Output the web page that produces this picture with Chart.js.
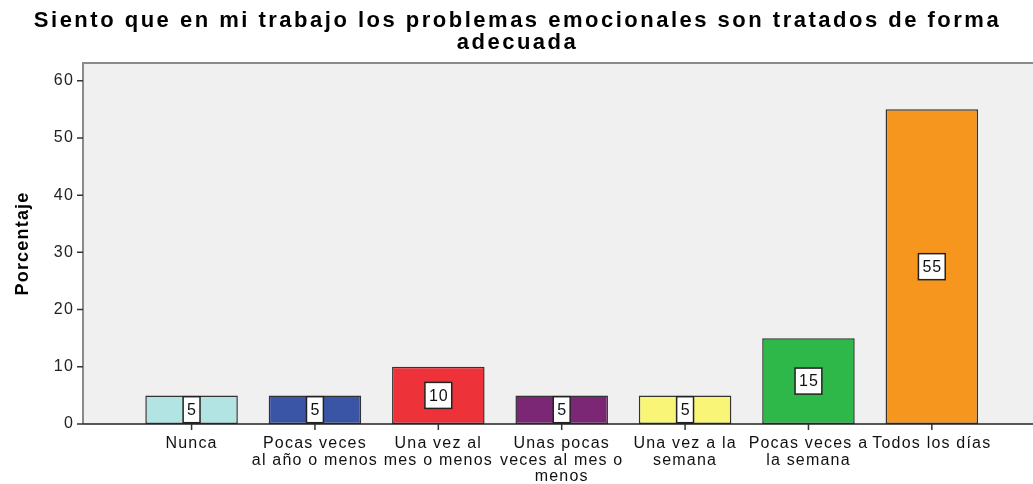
<!DOCTYPE html>
<html>
<head>
<meta charset="utf-8">
<script src="https://cdn.jsdelivr.net/npm/chart.js@4.4.0/dist/chart.umd.min.js"></script>
<style>
  html, body { margin: 0; padding: 0; background: #fff; }
  #wrap { width: 1033px; height: 484px; }
</style>
</head>
<body>
<div id="wrap"><canvas id="grafico"></canvas></div>
<script>
const titulo = ['Siento que en mi trabajo los problemas emocionales son tratados de forma', 'adecuada'];
const categorias = [
    ['Nunca'],
    ['Pocas veces', 'al año o menos'],
    ['Una vez al', 'mes o menos'],
    ['Unas pocas', 'veces al mes o', 'menos'],
    ['Una vez a la', 'semana'],
    ['Pocas veces a', 'la semana'],
    ['Todos los días']
];
const porcentajes = [5, 5, 10, 5, 5, 15, 55];
const colores = ['#b3e4e4', '#3a54a6', '#ee3239', '#7c2676', '#f9f677', '#2fb84a', '#f7961e'];
const ticksY = [0, 10, 20, 30, 40, 50, 60];

const puntos = porcentajes.map((v, i) => ({x: i, y: v}));
const fuente = '"Liberation Sans", Arial, sans-serif';

const espaciado = {
    id: 'espaciado',
    beforeUpdate(chart) { chart.ctx.letterSpacing = '1.2px'; },
    beforeDraw(chart) { chart.ctx.letterSpacing = '1.2px'; }
};

const fondoPlot = {
    id: 'fondoPlot',
    beforeDatasetsDraw(chart) {
        const a = chart.chartArea;
        const c = chart.ctx;
        c.save();
        c.fillStyle = '#f0f0f0';
        c.fillRect(a.left, a.top, a.right - a.left, a.bottom - a.top);
        c.strokeStyle = '#8a8a8a';
        c.lineWidth = 2;
        c.beginPath();
        c.moveTo(a.left, a.bottom);
        c.lineTo(a.left, a.top);
        c.lineTo(a.right + 2, a.top);
        c.stroke();
        c.restore();
    },
    afterDatasetsDraw(chart) {
        const a = chart.chartArea;
        const c = chart.ctx;
        c.save();
        c.strokeStyle = '#222';
        c.lineWidth = 1.5;
        c.beginPath();
        c.moveTo(a.left, a.bottom);
        c.lineTo(a.right + 2, a.bottom);
        c.stroke();
        // etiquetas de valor
        const meta = chart.getDatasetMeta(0);
        c.font = '16px ' + fuente;
        c.letterSpacing = '1px';
        c.textAlign = 'center';
        c.textBaseline = 'middle';
        meta.data.forEach((bar, i) => {
            const txt = String(porcentajes[i]);
            const cy = (bar.y + bar.base) / 2;
            const w = c.measureText(txt).width + 7;
            const h = 26;
            c.fillStyle = '#fff';
            c.fillRect(bar.x - w / 2, cy - h / 2, w, h);
            c.strokeStyle = '#222';
            c.lineWidth = 1.5;
            c.strokeRect(bar.x - w / 2, cy - h / 2, w, h);
            c.fillStyle = '#111';
            c.fillText(txt, bar.x + 0.5, cy + 1);
        });
        c.restore();
    }
};

const tituloPlugin = {
    id: 'tituloPlugin',
    afterDraw(chart) {
        const c = chart.ctx;
        c.save();
        c.font = 'bold 22px ' + fuente;
        c.letterSpacing = '2.5px';
        c.fillStyle = '#000';
        c.textAlign = 'center';
        c.textBaseline = 'middle';
        titulo.forEach((t, i) => c.fillText(t, chart.width / 2 + 1, 21 + i * 22));
        c.restore();
    }
};

new Chart(document.getElementById('grafico'), {
    type: 'bar',
    data: {
        datasets: [{
            data: puntos,
            backgroundColor: colores,
            borderColor: '#333',
            borderWidth: 1.5,
            borderSkipped: false,
            categoryPercentage: 1,
            barPercentage: 0.75
        }]
    },
    options: {
        responsive: true,
        maintainAspectRatio: false,
        animation: false,
        layout: { padding: { top: 63, right: 0, left: 12, bottom: 0 } },
        plugins: {
            legend: { display: false },
            tooltip: { enabled: false },
            title: { display: false }
        },
        scales: {
            x: {
                type: 'linear',
                offset: false,
                min: -0.88,
                max: 6.82,
                grid: { display: false, drawTicks: false },
                border: { display: false },
                afterFit(s) { s.height = 60; },
                afterBuildTicks(s) { s.ticks = categorias.map((c, i) => ({value: i})); },
                ticks: {
                    autoSkip: false,
                    maxRotation: 0,
                    padding: 11,
                    color: '#111',
                    font: { family: fuente, size: 16, lineHeight: 1.05 },
                    callback: (v) => categorias[v]
                }
            },
            y: {
                min: 0,
                max: 63.1,
                grid: { display: false, drawTicks: false },
                border: { display: false },
                afterFit(s) { s.width = 71; },
                afterBuildTicks(s) { s.ticks = ticksY.map(v => ({value: v})); },
                ticks: {
                    padding: 9,
                    color: '#222',
                    font: { family: fuente, size: 16 }
                },
                title: {
                    display: true,
                    text: 'Porcentaje',
                    color: '#000',
                    font: { family: fuente, size: 18, weight: 'bold' },
                    padding: 0
                }
            }
        }
    },
    plugins: [espaciado, fondoPlot, tituloPlugin, {
        id: 'marcas',
        afterDraw(chart) {
            const c = chart.ctx;
            const a = chart.chartArea;
            const sx = chart.scales.x, sy = chart.scales.y;
            c.save();
            c.strokeStyle = '#333';
            c.lineWidth = 1.5;
            c.beginPath();
            categorias.forEach((cat, i) => {
                const px = sx.getPixelForValue(i);
                c.moveTo(px, a.bottom);
                c.lineTo(px, a.bottom + 6);
            });
            ticksY.forEach(v => {
                const py = sy.getPixelForValue(v);
                c.moveTo(a.left - 6, py);
                c.lineTo(a.left, py);
            });
            c.stroke();
            c.restore();
        }
    }]
});
</script>
</body>
</html>
